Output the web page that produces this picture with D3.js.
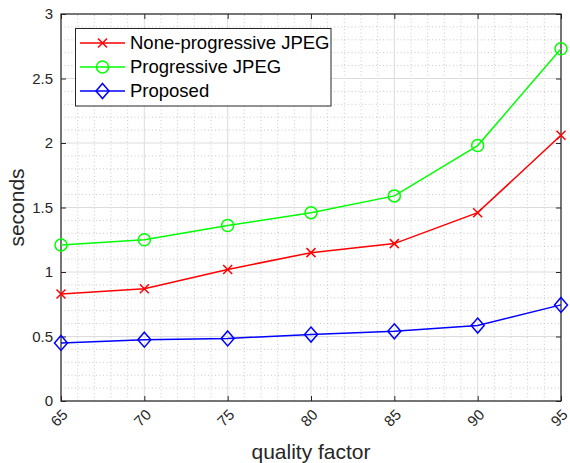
<!DOCTYPE html>
<html><head><meta charset="utf-8">
<script src="https://cdn.jsdelivr.net/npm/d3@7"></script>
<style>body{margin:0;background:#fff}svg{display:block}text{font-family:Arial,"Liberation Sans",Helvetica,sans-serif}</style>
</head><body>
<script>
const quality = [65, 70, 75, 80, 85, 90, 95];
const noneProgressive = [0.83, 0.87, 1.02, 1.15, 1.22, 1.46, 2.06];
const progressive = [1.21, 1.25, 1.36, 1.46, 1.59, 1.98, 2.73];
const proposed = [0.45, 0.475, 0.485, 0.515, 0.54, 0.585, 0.745];
const yTicks = [0, 0.5, 1, 1.5, 2, 2.5, 3];
const seriesNames = ["None-progressive JPEG", "Progressive JPEG", "Proposed"];
const seriesColors = ["#ff0000", "#00ff00", "#0000ff"];
const seriesMarkers = ["x", "o", "d"];

const W = 570, H = 463;
const m = {l: 61, t: 14, r: 9, b: 62};
const svg = d3.select("body").append("svg").attr("width", W).attr("height", H);
const x = d3.scaleLinear().domain([65, 95]).range([m.l, W - m.r]);
const y = d3.scaleLinear().domain([0, 3]).range([H - m.b, m.t]);
const x0 = x.range()[0], x1 = x.range()[1], y0 = y.range()[0], y1 = y.range()[1];

const g = svg.append("g");
// minor grid
const xMinor = d3.range(65, 95.01, 1).filter(v => v % 5 !== 0);
const yMinor = d3.range(0, 30.01, 1).map(v => v / 10).filter((v, i) => i % 5 !== 0);
g.selectAll(".xm").data(xMinor).join("line")
  .attr("x1", d => x(d)).attr("x2", d => x(d)).attr("y1", y0).attr("y2", y1)
  .attr("stroke", "#bdbdbd").attr("stroke-width", 0.8).attr("stroke-dasharray", "1,2.5");
g.selectAll(".ym").data(yMinor).join("line")
  .attr("x1", x0).attr("x2", x1).attr("y1", d => y(d)).attr("y2", d => y(d))
  .attr("stroke", "#bdbdbd").attr("stroke-width", 0.8).attr("stroke-dasharray", "1,2.5");
// major grid
g.selectAll(".xg").data(quality).join("line")
  .attr("x1", d => x(d)).attr("x2", d => x(d)).attr("y1", y0).attr("y2", y1)
  .attr("stroke", "#dcdcdc").attr("stroke-width", 1);
g.selectAll(".yg").data(yTicks).join("line")
  .attr("x1", x0).attr("x2", x1).attr("y1", d => y(d)).attr("y2", d => y(d))
  .attr("stroke", "#dcdcdc").attr("stroke-width", 1);

// axes
const axCol = "#262626";
const xAx = svg.append("g").attr("transform", `translate(0,${y0})`)
  .call(d3.axisBottom(x).tickValues(quality).tickSize(-5).tickPadding(8).tickSizeOuter(0));
xAx.select(".domain").remove();
xAx.selectAll("line").attr("stroke", axCol);
xAx.selectAll("text").attr("fill", axCol).style("font-size", "15px")
  .attr("text-anchor", "end").attr("dy", "0.35em")
  .attr("transform", "translate(3.5,11) rotate(-45)")
  .attr("x", 0).attr("y", 0);
const xTop = svg.append("g").attr("transform", `translate(0,${y1})`)
  .call(d3.axisTop(x).tickValues(quality).tickSize(-5).tickFormat("").tickSizeOuter(0));
xTop.select(".domain").remove(); xTop.selectAll("line").attr("stroke", axCol);
const yAx = svg.append("g").attr("transform", `translate(${x0},0)`)
  .call(d3.axisLeft(y).tickValues(yTicks).tickSize(-5).tickPadding(8).tickSizeOuter(0).tickFormat(d3.format("")));
yAx.select(".domain").remove(); yAx.selectAll("line").attr("stroke", axCol);
yAx.selectAll("text").attr("fill", axCol).style("font-size", "15px");
const yR = svg.append("g").attr("transform", `translate(${x1},0)`)
  .call(d3.axisRight(y).tickValues(yTicks).tickSize(-5).tickFormat("").tickSizeOuter(0));
yR.select(".domain").remove(); yR.selectAll("line").attr("stroke", axCol);
svg.append("rect").attr("x", x0).attr("y", y1).attr("width", x1 - x0).attr("height", y0 - y1)
  .attr("fill", "none").attr("stroke", axCol).attr("stroke-width", 1.2);

// series
const data = [noneProgressive, progressive, proposed];
const line = d3.line().x((d, i) => x(quality[i])).y(d => y(d));
function marker(sel, type, color, cx, cy) {
  if (type === "x") {
    const s = 4.5;
    sel.append("path").attr("d", `M${cx-s},${cy-s}L${cx+s},${cy+s}M${cx-s},${cy+s}L${cx+s},${cy-s}`)
      .attr("stroke", color).attr("stroke-width", 1.5).attr("fill", "none");
  } else if (type === "o") {
    sel.append("circle").attr("cx", cx).attr("cy", cy).attr("r", 6)
      .attr("stroke", color).attr("stroke-width", 1.5).attr("fill", "none");
  } else {
    const s = 7.5, w = 6.5;
    sel.append("path").attr("d", `M${cx},${cy-s}L${cx+w},${cy}L${cx},${cy+s}L${cx-w},${cy}Z`)
      .attr("stroke", color).attr("stroke-width", 1.5).attr("fill", "none");
  }
}
data.forEach((vals, k) => {
  const sg = svg.append("g");
  sg.append("path").datum(vals).attr("d", line).attr("fill", "none")
    .attr("stroke", seriesColors[k]).attr("stroke-width", 1.5);
  vals.forEach((v, i) => marker(sg, seriesMarkers[k], seriesColors[k], x(quality[i]), y(v)));
});

// legend
const lg = svg.append("g");
lg.append("rect").attr("x", 75.5).attr("y", 28.5).attr("width", 255.5).attr("height", 77.5)
  .attr("fill", "#fff").attr("stroke", axCol).attr("stroke-width", 1);
seriesNames.forEach((n, k) => {
  const ly = 43 + k * 24;
  lg.append("line").attr("x1", 80).attr("x2", 125).attr("y1", ly).attr("y2", ly)
    .attr("stroke", seriesColors[k]).attr("stroke-width", 1.5);
  marker(lg, seriesMarkers[k], seriesColors[k], 102.5, ly);
  lg.append("text").attr("x", 130).attr("y", ly).attr("dy", "0.35em")
    .style("font-size", "18.5px").attr("fill", "#000").text(n);
});

// axis labels
svg.append("text").attr("x", (x0 + x1) / 2).attr("y", 459).attr("text-anchor", "middle")
  .style("font-size", "21px").attr("fill", axCol).text("quality factor");
svg.append("text").attr("transform", `translate(24,${(y0 + y1) / 2}) rotate(-90)`)
  .attr("text-anchor", "middle").style("font-size", "21px").attr("fill", axCol).text("seconds");
</script>
</body></html>
